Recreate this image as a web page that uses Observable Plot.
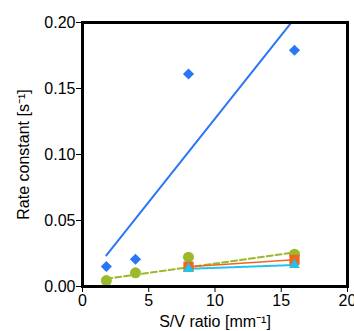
<!DOCTYPE html>
<html>
<head>
<meta charset="utf-8">
<script src="https://cdn.jsdelivr.net/npm/d3@7"></script>
<script src="https://cdn.jsdelivr.net/npm/@observablehq/plot@0.6"></script>
<style>
  body { margin: 0; background: #fff; }
</style>
</head>
<body>
<div id="chart"></div>
<script>
// Data
const svRatio = [1.8, 4, 8, 16];
const blueRate = [0.0152, 0.0207, 0.161, 0.179];
const greenRate = [0.0045, 0.0104, 0.0222, 0.0245];
const svRatioB = [8, 16];
const orangeRate = [0.0150, 0.0202];
const cyanRate = [0.0134, 0.0163];
// fitted lines (endpoints)
const fitX = [1.8, 16];
const blueFit = [0.0235, 0.2030];
const greenFit = [0.0058, 0.0258];

const xTicks = [0, 5, 10, 15, 20];
const yTicks = [0, 0.05, 0.10, 0.15, 0.20];

const colors = { blue: "#2a76f5", green: "#9aba2b", orange: "#f0661f", cyan: "#1ec3ef" };

const blue = svRatio.map((x, i) => ({ x, y: blueRate[i] }));
const green = svRatio.map((x, i) => ({ x, y: greenRate[i] }));
const orange = svRatioB.map((x, i) => ({ x, y: orangeRate[i] }));
const cyan = svRatioB.map((x, i) => ({ x, y: cyanRate[i] }));
const blueLine = fitX.map((x, i) => ({ x, y: blueFit[i] }));
const greenLine = fitX.map((x, i) => ({ x, y: greenFit[i] }));

const chart = Plot.plot({
  width: 354,
  height: 331,
  marginLeft: 82,
  marginRight: 7,
  marginTop: 22,
  marginBottom: 45,
  style: { fontFamily: "'Liberation Sans', Arial, sans-serif", fontSize: "16px", color: "#000", background: "#fff" },
  x: { domain: [0, 20] },
  y: { domain: [0, 0.20] },
  marks: [
    Plot.axisX({ ticks: xTicks, tickSize: 6, tickPadding: 2, label: "S/V ratio [mm⁻¹]", labelAnchor: "center", labelArrow: "none", labelOffset: 40 }),
    Plot.axisY({ ticks: yTicks, tickFormat: d3.format(".2f"), tickSize: 6, tickPadding: 1, label: "Rate constant [s⁻¹]", labelAnchor: "center", labelArrow: "none", labelOffset: 65 }),
    Plot.line(blueLine, { x: "x", y: "y", stroke: colors.blue, strokeWidth: 2, clip: true }),
    Plot.line(greenLine, { x: "x", y: "y", stroke: colors.green, strokeWidth: 2, strokeDasharray: "6,3" }),
    Plot.line(orange, { x: "x", y: "y", stroke: colors.orange, strokeWidth: 1.5 }),
    Plot.line(cyan, { x: "x", y: "y", stroke: colors.cyan, strokeWidth: 2, strokeDasharray: "2,1.5" }),
    Plot.dot(blue, { x: "x", y: "y", symbol: "diamond2", r: 5, fill: colors.blue, stroke: "none" }),
    Plot.dot(green, { x: "x", y: "y", symbol: "circle", r: 5.5, fill: colors.green, stroke: "none" }),
    Plot.dot(orange, { x: "x", y: "y", symbol: "square", r: 5.8, fill: colors.orange, stroke: "none" }),
    Plot.dot(cyan, { x: "x", y: "y", symbol: "triangle", r: 4, fill: colors.cyan, stroke: "none" }),
    Plot.frame({ stroke: "#000", strokeWidth: 3 })
  ]
});
document.getElementById("chart").appendChild(chart);
</script>
</body>
</html>
